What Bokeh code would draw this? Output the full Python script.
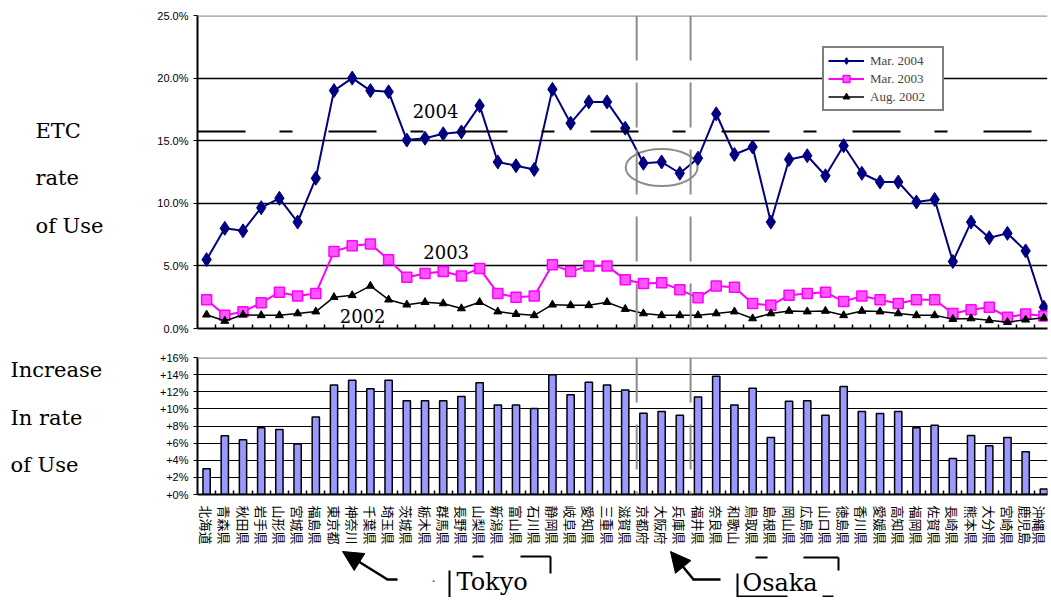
import math
from bokeh.plotting import figure
from bokeh.layouts import column, row
from bokeh.models import (FixedTicker, Span, Label, Arrow, NormalHead, Legend,
                          LegendItem, Range1d)
from bokeh.embed import file_html
from bokeh.resources import INLINE

prefectures = ["北海道", "青森県", "秋田県", "岩手県", "山形県", "宮城県", "福島県",
               "東京都", "神奈川", "千葉県", "埼玉県", "茨城県", "栃木県", "群馬県",
               "長野県", "山梨県", "新潟県", "富山県", "石川県", "静岡県", "岐阜県",
               "愛知県", "三重県", "滋賀県", "京都府", "大阪府", "兵庫県", "福井県",
               "奈良県", "和歌山", "鳥取県", "島根県", "岡山県", "広島県", "山口県",
               "徳島県", "香川県", "愛媛県", "高知県", "福岡県", "佐賀県", "長崎県",
               "熊本県", "大分県", "宮崎県", "鹿児島", "沖縄県"]

mar2004 = [5.5, 8.0, 7.8, 9.65, 10.4, 8.5, 12.0, 19.0, 20.0, 19.0, 18.9, 15.05,
           15.2, 15.55, 15.7, 17.8, 13.3, 13.0, 12.7, 19.1, 16.4, 18.1, 18.1, 16.0,
           13.2, 13.3, 12.4, 13.6, 17.15, 13.9, 14.5, 8.5, 13.5, 13.8, 12.2, 14.6,
           12.4, 11.7, 11.7, 10.1, 10.3, 5.35, 8.5, 7.25, 7.6, 6.2, 1.7]
mar2003 = [2.3, 1.05, 1.33, 2.05, 2.9, 2.6, 2.8, 6.15, 6.6, 6.75, 5.5, 4.1,
           4.4, 4.55, 4.2, 4.8, 2.8, 2.5, 2.6, 5.1, 4.55, 5.0, 5.0, 3.9,
           3.6, 3.65, 3.1, 2.45, 3.4, 3.3, 2.0, 1.85, 2.65, 2.8, 2.9, 2.15,
           2.6, 2.3, 2.0, 2.3, 2.3, 1.2, 1.5, 1.7, 0.9, 1.15, 1.0]
aug2002 = [1.1, 0.6, 1.1, 1.05, 1.05, 1.2, 1.35, 2.5, 2.65, 3.4, 2.3, 1.9,
           2.1, 2.0, 1.6, 2.1, 1.35, 1.15, 1.05, 1.9, 1.85, 1.85, 2.1, 1.55,
           1.2, 1.05, 1.05, 1.05, 1.2, 1.35, 0.8, 1.2, 1.4, 1.35, 1.4, 1.05,
           1.4, 1.35, 1.2, 1.05, 1.05, 0.75, 0.8, 0.65, 0.5, 0.7, 0.85]
increase = [3.0, 6.85, 6.4, 7.8, 7.6, 5.9, 9.05, 12.8, 13.35, 12.35, 13.35, 10.95,
            10.95, 10.95, 11.45, 13.05, 10.45, 10.45, 10.05, 14.0, 11.65, 13.1, 12.8, 12.2,
            9.5, 9.7, 9.25, 11.4, 13.8, 10.45, 12.4, 6.65, 10.9, 10.95, 9.25, 12.6,
            9.7, 9.45, 9.7, 7.8, 8.1, 4.2, 6.9, 5.7, 6.65, 5.0, 0.65]

series_names = ["Mar. 2004", "Mar. 2003", "Aug. 2002"]
top_ticks = [0, 5, 10, 15, 20, 25]
top_tick_labels = ["0.0%", "5.0%", "10.0%", "15.0%", "20.0%", "25.0%"]
bottom_ticks = [0, 2, 4, 6, 8, 10, 12, 14, 16]
bottom_tick_labels = ["+0%", "+2%", "+4%", "+6%", "+8%", "+10%", "+12%", "+14%", "+16%"]

idx = list(range(len(prefectures)))
boundaries = [i + 0.5 for i in range(len(prefectures) - 1)]

SERIF = "Liberation Serif"
WSERIF = "DejaVu Serif"
SANS = "Liberation Sans"

LW = 120  # width of the left label column


def blank(w, h, xr, yr):
    f = figure(width=w, height=h, x_range=xr, y_range=yr, output_backend="svg",
               toolbar_location=None, x_axis_location=None, y_axis_location=None,
               min_border=0, title=None)
    f.grid.visible = False
    f.outline_line_color = None
    return f


# ---------------- top panel ----------------
p1 = figure(width=1048 - LW, height=340, output_backend="svg", toolbar_location=None,
            x_range=Range1d(-0.5, 46.2), y_range=Range1d(0, 25),
            min_border_left=197 - LW, min_border_right=1, min_border_top=15,
            min_border_bottom=12, title=None)
p1.outline_line_color = None
p1.xgrid.visible = False
p1.ygrid.ticker = FixedTicker(ticks=[5, 10, 15, 20])
p1.ygrid.grid_line_color = "black"
p1.ygrid.grid_line_width = 1.5

p1.yaxis.ticker = FixedTicker(ticks=top_ticks)
p1.yaxis.major_label_overrides = dict(zip(top_ticks, top_tick_labels))
p1.yaxis.major_label_text_font = SANS
p1.yaxis.major_label_text_font_size = "11px"
p1.yaxis.major_label_text_color = "black"
p1.yaxis.axis_line_width = 2
p1.yaxis.major_tick_out = 4
p1.yaxis.major_tick_in = 0
p1.yaxis.minor_tick_line_color = None
p1.yaxis.major_label_standoff = 5

p1.xaxis.ticker = FixedTicker(ticks=[], minor_ticks=boundaries)
p1.xaxis.axis_line_width = 2
p1.xaxis.minor_tick_in = 4
p1.xaxis.minor_tick_out = 0
p1.xaxis.minor_tick_line_width = 1.5
p1.xaxis.major_tick_line_color = None
p1.xaxis.major_label_text_font_size = "0px"

p1.add_layout(Span(location=25, dimension="width", line_color="#999999", line_width=2.5))
p1.add_layout(Span(location=15.73, dimension="width", line_color="black", line_width=2,
                   line_dash="48 34 13 36"))
for loc in [23.63, 26.59]:
    p1.add_layout(Span(location=loc, dimension="height", line_color="#8c8c8c",
                       line_width=2, line_dash="45 22"))

p1.ellipse(x=25.0, y=12.86, width=3.95, height=2.95, fill_color=None,
           line_color="#8c8c8c", line_width=2)

l4 = p1.line(idx, mar2004, line_color="#000080", line_width=2)
s4 = p1.scatter(idx, mar2004, marker="diamond", size=14, fill_color="#000080",
                line_color="#000080")
l3 = p1.line(idx, mar2003, line_color="#FF00FF", line_width=2)
s3 = p1.scatter(idx, mar2003, marker="square", size=10, fill_color="#FF55FF",
                line_color="#FF00FF", line_width=1.5)
l2 = p1.line(idx, aug2002, line_color="black", line_width=1.5)
s2 = p1.scatter(idx, aug2002, marker="triangle", size=8, fill_color="black",
                line_color="black")

legend = Legend(items=[LegendItem(label=series_names[0], renderers=[l4, s4]),
                       LegendItem(label=series_names[1], renderers=[l3, s3]),
                       LegendItem(label=series_names[2], renderers=[l2, s2])],
                location=(625, 217), orientation="vertical")
legend.label_text_font = SERIF
legend.label_text_font_size = "13px"
legend.label_height = 17
legend.glyph_height = 17
legend.glyph_width = 36
legend.label_width = 68
legend.label_standoff = 6
legend.spacing = 1
legend.padding = 4
legend.margin = 0
legend.border_line_color = "black"
legend.border_line_width = 2
legend.background_fill_alpha = 1
p1.add_layout(legend)

for txt, x, y in [("2004", 12.58, 17.4), ("2003", 13.16, 6.15), ("2002", 8.57, 0.96)]:
    p1.add_layout(Label(x=x, y=y, text=txt, text_font=WSERIF, text_font_size="18px",
                        text_align="center", text_baseline="middle", text_color="black"))

# left label column for the top panel; its frame is aligned with p1's frame (page y 15..328)
L1 = blank(LW, 340, Range1d(0, LW), Range1d(328, 15))
for txt, y in [("ETC", 130.5), ("rate", 177.5), ("of Use", 225.5)]:
    L1.add_layout(Label(x=35, y=y, text=txt, text_font=WSERIF, text_font_size="21px",
                        text_align="left", text_baseline="middle", text_color="black"))

# ---------------- bottom panel ----------------
p2 = figure(width=1048 - LW, height=209, output_backend="svg", toolbar_location=None,
            x_range=p1.x_range, y_range=Range1d(0, 16),
            min_border_left=197 - LW, min_border_right=1, min_border_top=17,
            min_border_bottom=55, title=None)
p2.outline_line_color = None
p2.xgrid.visible = False
p2.ygrid.ticker = FixedTicker(ticks=[2, 4, 6, 8, 10, 12, 14])
p2.ygrid.grid_line_color = "black"
p2.ygrid.grid_line_width = 1.2

p2.yaxis.ticker = FixedTicker(ticks=bottom_ticks)
p2.yaxis.major_label_overrides = dict(zip(bottom_ticks, bottom_tick_labels))
p2.yaxis.major_label_text_font = SANS
p2.yaxis.major_label_text_font_size = "11px"
p2.yaxis.major_label_text_color = "black"
p2.yaxis.axis_line_width = 2
p2.yaxis.major_tick_out = 4
p2.yaxis.major_tick_in = 0
p2.yaxis.minor_tick_line_color = None
p2.yaxis.major_label_standoff = 5

p2.xaxis.ticker = FixedTicker(ticks=idx, minor_ticks=boundaries)
p2.xaxis.major_label_overrides = dict(zip(idx, prefectures))
p2.xaxis.major_label_orientation = -math.pi / 2
p2.xaxis.major_label_text_font = "Noto Sans CJK JP"
p2.xaxis.major_label_text_font_size = "13px"
p2.xaxis.major_label_text_color = "black"
p2.xaxis.major_label_standoff = 5
p2.xaxis.axis_line_width = 2
p2.xaxis.major_tick_line_color = None
p2.xaxis.minor_tick_in = 4
p2.xaxis.minor_tick_out = 0
p2.xaxis.minor_tick_line_width = 1.5

p2.add_layout(Span(location=16, dimension="width", line_color="#999999", line_width=2.5))
for loc in [23.63, 26.59]:
    p2.add_layout(Span(location=loc, dimension="height", line_color="#8c8c8c",
                       line_width=2, line_dash="45 22"))

p2.vbar(x=idx, top=increase, width=0.4, fill_color="#9999FF", line_color="black",
        line_width=1.5)

# left label column for the bottom panel; frame aligned with p2's frame (page y 357..494)
L2 = blank(LW, 209, Range1d(0, LW), Range1d(494, 357))
for txt, y in [("Increase", 369.5), ("In rate", 417.5), ("of Use", 464.5)]:
    L2.add_layout(Label(x=10, y=y, text=txt, text_font=WSERIF, text_font_size="21px",
                        text_align="left", text_baseline="middle", text_color="black"))

# ---------------- annotation strip (page pixel coordinates) ----------------
A = blank(1048, 48, Range1d(0, 1048), Range1d(597, 549))


def seg(x0, y0, x1, y1, w=2):
    A.add_layout(Arrow(x_start=x0, y_start=y0, x_end=x1, y_end=y1,
                       start=None, end=None, line_color="black", line_width=w))


def arrow(x0, y0, x1, y1):
    A.add_layout(Arrow(x_start=x0, y_start=y0, x_end=x1, y_end=y1, start=None,
                       end=NormalHead(size=20, fill_color="black", line_color="black"),
                       line_color="black", line_width=2.5))


# Tokyo annotation
seg(397, 579, 386, 579, 2.5)
arrow(387, 579, 342, 551)
seg(449, 570, 449, 603)
seg(472, 556, 483, 556)
seg(520, 556, 550, 556)
seg(550, 556, 550, 573)
A.add_layout(Label(x=433, y=581, text="·", text_font=SERIF, text_font_size="14px",
                   text_align="center", text_baseline="middle"))
A.add_layout(Label(x=456, y=581, text="Tokyo", text_font=WSERIF, text_font_size="24px",
                   text_align="left", text_baseline="middle", text_color="black"))

# Osaka annotation
seg(720, 579, 692, 579, 2.5)
arrow(693, 579, 670, 551)
seg(737, 573, 737, 602)
seg(737, 596, 787, 596)
seg(755, 557, 767, 557)
seg(803, 557, 838, 557)
seg(838, 557, 838, 570)
seg(822, 596, 833, 596)
A.add_layout(Label(x=742, y=582, text="Osaka", text_font=WSERIF, text_font_size="24px",
                   text_align="left", text_baseline="middle", text_color="black"))

layout = column(row(L1, p1, spacing=0), row(L2, p2, spacing=0), A, spacing=0)
open("out.html", "w").write(file_html(layout, INLINE))
